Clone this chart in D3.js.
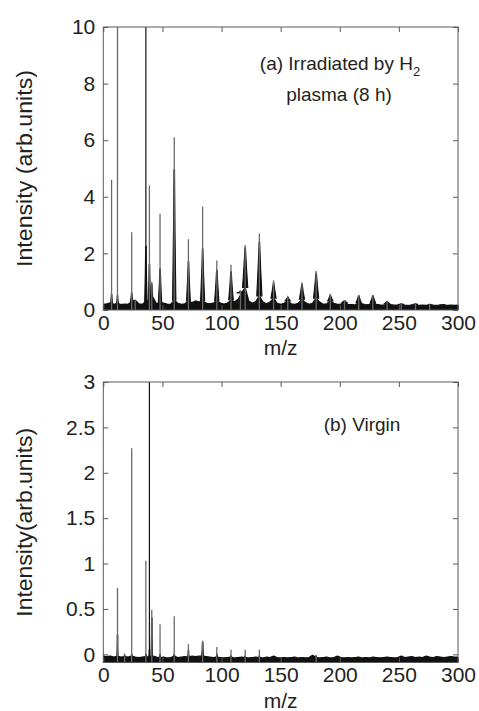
<!DOCTYPE html>
<html>
<head>
<meta charset="utf-8">
<script src="https://cdn.jsdelivr.net/npm/d3@7"></script>
<style>
  html, body { margin: 0; padding: 0; background: #fff; }
  svg { display: block; }
  text { font-family: "Liberation Sans", Arial, sans-serif; fill: #231f20; }
</style>
</head>
<body>
<div id="chart"></div>
<script>
// ---------- data ----------
const xTicks = [0, 50, 100, 150, 200, 250, 300];
const topYTicks = [0, 2, 4, 6, 8, 10];
const botYTicks = [0, 0.5, 1, 1.5, 2, 2.5, 3];
const botYLabels = ["0", "0.5", "1", "1.5", "2", "2.5", "3"];

// (a) irradiated spectrum: peak m/z, thin spike height, dark core height, core half-width (m/z)
const topPeakMz    = [7, 12, 24, 27, 36, 39, 41, 48, 60, 72, 84, 96, 108, 116, 120, 132, 144, 156, 168, 180, 192, 204, 216, 228, 240, 252, 264, 276];
const topPeakSpike = [4.6, 10, 2.75, 0.35, 10, 4.4, 1.0, 3.4, 6.1, 2.5, 3.65, 1.75, 1.6, 0.7, 2.3, 2.7, 1.05, 0.5, 0.98, 1.38, 0.57, 0.35, 0.53, 0.52, 0.33, 0.25, 0.24, 0.22];
const topPeakCore  = [0.55, 0.5, 0.6, 0.3, 2.25, 1.6, 0.9, 1.45, 4.95, 1.7, 2.15, 1.4, 1.35, 0.65, 2.2, 2.4, 0.95, 0.45, 0.9, 1.3, 0.52, 0.33, 0.5, 0.5, 0.3, 0.22, 0.22, 0.2];
const topPeakHalfW = [0.8, 0.8, 1, 1.2, 1, 1, 0.8, 1.4, 1.4, 1.6, 1.7, 1.8, 1.9, 3.2, 2.2, 2.2, 2.2, 2.2, 2.2, 2.2, 2.2, 2.2, 2.2, 2.2, 2.2, 2.2, 2.2, 2.2];
// baseline noise envelope sampled every 3 m/z, 0..300
const topNoise = [0.2, 0.22, 0.25, 0.2, 0.24, 0.19, 0.21, 0.2, 0.3, 0.35, 0.22, 0.2, 0.3, 0.35, 0.45, 0.22, 0.28, 0.24, 0.21, 0.2,
  0.35, 0.24, 0.2, 0.22, 0.32, 0.26, 0.32, 0.28, 0.34, 0.24, 0.22, 0.24, 0.32, 0.24, 0.21, 0.24, 0.36, 0.28, 0.38, 0.6,
  0.8, 0.32, 0.24, 0.3, 0.5, 0.28, 0.22, 0.28, 0.42, 0.24, 0.2, 0.24, 0.32, 0.22, 0.2, 0.24, 0.38, 0.26, 0.2, 0.24,
  0.42, 0.28, 0.2, 0.22, 0.32, 0.24, 0.2, 0.21, 0.26, 0.2, 0.19, 0.18, 0.26, 0.22, 0.18, 0.2, 0.26, 0.2, 0.18, 0.17,
  0.22, 0.19, 0.17, 0.18, 0.2, 0.17, 0.16, 0.18, 0.2, 0.16, 0.17, 0.16, 0.2, 0.17, 0.16, 0.18, 0.19, 0.16, 0.17, 0.16, 0.17];

// (b) virgin spectrum
const botPeakMz    = [12, 18, 24, 36, 39, 41, 48, 60, 72, 84, 96, 108, 120, 132, 180];
const botPeakSpike = [0.73, 0.01, 2.27, 1.03, 3, 0.49, 0.33, 0.42, 0.11, 0.15, 0.08, 0.05, 0.05, 0.05, -0.01];
const botPeakCore  = [0.21, -0.01, 0.0, 0.0, 0.05, 0.4, 0.0, 0.0, 0.04, 0.13, 0.0, -0.02, -0.02, -0.02, -0.02];
const botPeakHalfW = [0.5, 0.5, 0.5, 0.5, 0.5, 0.6, 0.5, 0.5, 0.6, 0.8, 0.5, 0.5, 0.5, 0.5, 0.5];
const botNoise = [-0.02, -0.025, -0.02, -0.03, -0.02, -0.03, -0.025, -0.03, -0.02, -0.03, -0.035, -0.03, -0.025, -0.03, -0.02, -0.03, -0.035, -0.03, -0.04, -0.035,
  -0.02, -0.035, -0.03, -0.025, -0.03, -0.02, -0.025, -0.02, -0.02, -0.025, -0.03, -0.035, -0.03, -0.035, -0.04, -0.035, -0.03, -0.04, -0.035, -0.03,
  -0.035, -0.04, -0.035, -0.03, -0.035, -0.04, -0.03, -0.035, -0.02, -0.035, -0.04, -0.035, -0.04, -0.035, -0.03, -0.04, -0.035, -0.04, -0.035, -0.01,
  -0.035, -0.04, -0.035, -0.03, -0.04, -0.035, -0.02, -0.035, -0.04, -0.035, -0.04, -0.035, -0.03, -0.04, -0.035, -0.04, -0.03, -0.035, -0.04, -0.035,
  -0.03, -0.035, -0.04, -0.035, -0.02, -0.035, -0.03, -0.025, -0.035, -0.03, -0.035, -0.02, -0.03, -0.035, -0.025, -0.03, -0.035, -0.03, -0.025, -0.03, -0.03];
const noiseStep = 3;

// ---------- layout ----------
const W = 479, H = 711;
const svg = d3.select("#chart").append("svg").attr("width", W).attr("height", H);
const x = d3.scaleLinear().domain([0, 300]).range([103.3, 458]);

const panels = [
  { top: 27, bottom: 310, domain: [0, 10], ticks: topYTicks, labels: topYTicks.map(String),
    mz: topPeakMz, spike: topPeakSpike, core: topPeakCore, halfW: topPeakHalfW, noise: topNoise,
    dark: 36, title: "Intensity (arb.units)", titleLen: 197 },
  { top: 382, bottom: 662.5, domain: [-0.09, 3], ticks: botYTicks, labels: botYLabels,
    mz: botPeakMz, spike: botPeakSpike, core: botPeakCore, halfW: botPeakHalfW, noise: botNoise,
    dark: 39, title: "Intensity(arb.units)", titleLen: 189 }
];

const frameColor = "#5a5a5a";
const ink = "#111";

panels.forEach((p, pi) => {
  const y = d3.scaleLinear().domain(p.domain).range([p.bottom, p.top]);
  const g = svg.append("g");
  const clipId = "clip" + pi;
  svg.append("clipPath").attr("id", clipId).append("rect")
    .attr("x", x(0)).attr("y", p.top).attr("width", x(300) - x(0)).attr("height", p.bottom - p.top);
  const plot = g.append("g").attr("clip-path", `url(#${clipId})`);
  const yMin = p.domain[0];

  // baseline noise band
  const noisePts = p.noise.map((v, i) => [i * noiseStep, v]);
  plot.append("path")
    .attr("d", d3.area().x(d => x(d[0])).y0(y(yMin)).y1(d => y(d[1]))(noisePts))
    .attr("fill", ink).attr("stroke", ink).attr("stroke-width", 1.2).attr("stroke-linejoin", "bevel");

  // dark cores
  p.mz.forEach((m, i) => {
    const c = p.core[i], hw = p.halfW[i];
    const b = p.noise[Math.min(p.noise.length - 1, Math.round(m / noiseStep))];
    if (c <= b) return;
    const pts = [[m - hw, b], [m - hw * 0.45, b + (c - b) * 0.55], [m - 0.2, c], [m + 0.25, c], [m + hw * 0.5, b + (c - b) * 0.5], [m + hw, b]];
    plot.append("path")
      .attr("d", d3.line().x(d => x(d[0])).y(d => y(d[1]))(pts) + "Z")
      .attr("fill", ink).attr("stroke", ink).attr("stroke-width", 1.1);
  });

  // thin spikes
  p.mz.forEach((m, i) => {
    plot.append("line")
      .attr("x1", x(m)).attr("x2", x(m))
      .attr("y1", y(yMin)).attr("y2", y(p.spike[i]))
      .attr("stroke", m === p.dark ? "#111" : "#6a6a6a")
      .attr("stroke-width", m === p.dark ? 1.2 : 1.3);
  });

  // frame
  g.append("rect").attr("x", x(0)).attr("y", p.top)
    .attr("width", x(300) - x(0)).attr("height", p.bottom - p.top)
    .attr("fill", "none").attr("stroke", frameColor).attr("stroke-width", 1);

  // axes (ticks pointing inward)
  const axL = g.append("g").attr("transform", `translate(${x(0)},0)`)
    .call(d3.axisLeft(y).tickValues(p.ticks).tickFormat((d, i) => p.labels[i]).tickSizeInner(-5).tickSizeOuter(0).tickPadding(8));
  const axR = g.append("g").attr("transform", `translate(${x(300)},0)`)
    .call(d3.axisRight(y).tickValues(p.ticks).tickFormat("").tickSizeInner(-5).tickSizeOuter(0));
  const axT = g.append("g").attr("transform", `translate(0,${p.top})`)
    .call(d3.axisTop(x).tickValues(xTicks).tickFormat("").tickSizeInner(-5).tickSizeOuter(0));
  const axB = g.append("g").attr("transform", `translate(0,${p.bottom})`)
    .call(d3.axisBottom(x).tickValues(xTicks).tickSizeInner(-5).tickSizeOuter(0).tickPadding(5));
  [axL, axR, axT, axB].forEach(a => {
    a.select(".domain").remove();
    a.selectAll(".tick line").attr("stroke", frameColor);
    a.selectAll("text").style("font-size", "21px").attr("fill", "#231f20");
  });

  // x title
  g.append("text").attr("x", (x(0) + x(300)) / 2).attr("y", p.bottom + 45)
    .attr("text-anchor", "middle").style("font-size", "21px").text("m/z");

  // y title
  g.append("text")
    .attr("transform", `translate(32,${(p.top + p.bottom) / 2}) rotate(-90)`)
    .attr("text-anchor", "middle").style("font-size", "22px")
    .attr("textLength", p.titleLen).attr("lengthAdjust", "spacingAndGlyphs")
    .text(p.title);
});

// annotations
const a1 = svg.append("text").attr("x", 340).attr("y", 70).attr("text-anchor", "middle").style("font-size", "19px");
a1.append("tspan").text("(a) Irradiated by H");
a1.append("tspan").attr("dy", 6).style("font-size", "13px").text("2");
svg.append("text").attr("x", 339).attr("y", 101).attr("text-anchor", "middle").style("font-size", "19px").text("plasma (8 h)");
svg.append("text").attr("x", 362).attr("y", 431).attr("text-anchor", "middle").style("font-size", "19px").text("(b) Virgin");
</script>
</body>
</html>
